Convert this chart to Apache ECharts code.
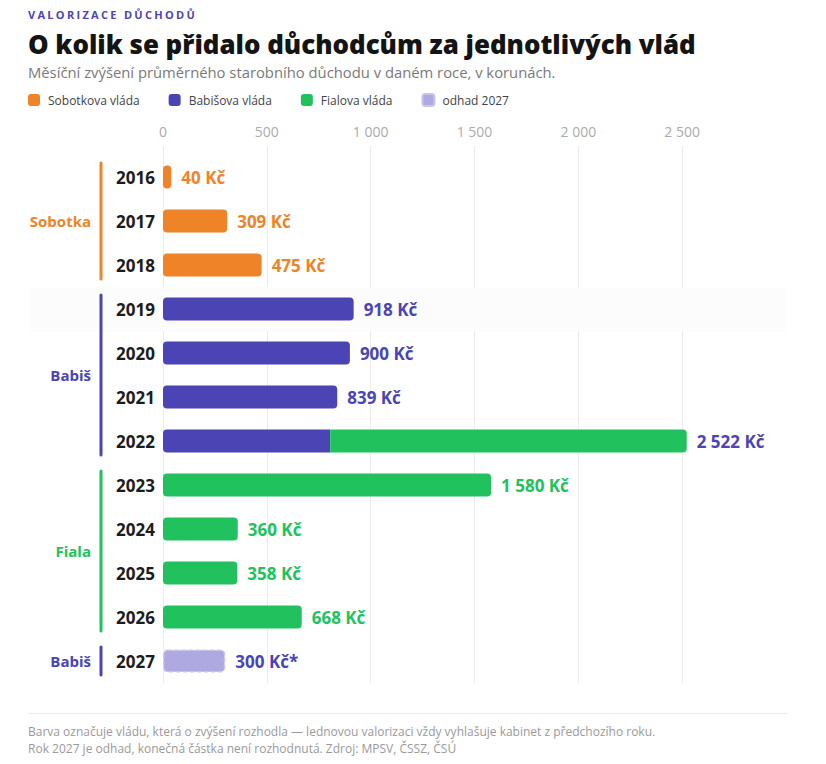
<!DOCTYPE html>
<html>
<head>
<meta charset="utf-8">
<script src="https://cdn.jsdelivr.net/npm/echarts@6/dist/echarts.min.js"></script>
<style>
  html, body { margin: 0; padding: 0; background: #fff; }
  #wrap { position: relative; width: 826px; height: 764px; font-family: 'Open Sans', sans-serif; }
  #chart { position: absolute; left: 0; top: 0; width: 826px; height: 764px; }
  .t { position: absolute; left: 28px; white-space: nowrap; }
  #kicker { top: 8px; font-size: 11px; line-height: 14px; font-weight: 700; letter-spacing: 2.3px; color: #4d45b3; }
  #title { top: 28px; font-size: 25.9px; line-height: 32px; font-weight: 800; color: #141414; }
  #sub { top: 63px; font-size: 14.8px; line-height: 18px; color: #7a7a7a; }
  #rule { position: absolute; left: 28px; top: 713px; width: 760px; height: 1px; background: #ededed; }
  #foot1 { top: 723px; font-size: 12px; line-height: 17px; color: #9a9a9a; }
  #foot2 { top: 740px; font-size: 12px; line-height: 17px; color: #9a9a9a; }
</style>
</head>
<body>
<div id="wrap">
  <div id="chart"></div>
  <div class="t" id="kicker">VALORIZACE DŮCHODŮ</div>
  <div class="t" id="title">O kolik se přidalo důchodcům za jednotlivých vlád</div>
  <div class="t" id="sub">Měsíční zvýšení průměrného starobního důchodu v daném roce, v korunách.</div>
  <div id="rule"></div>
  <div class="t" id="foot1">Barva označuje vládu, která o zvýšení rozhodla — lednovou valorizaci vždy vyhlašuje kabinet z předchozího roku.</div>
  <div class="t" id="foot2">Rok 2027 je odhad, konečná částka není rozhodnutá. Zdroj: MPSV, ČSSZ, ČSÚ</div>
</div>
<script>
// ---- data ----
const years   = ['2016','2017','2018','2019','2020','2021','2022','2023','2024','2025','2026','2027'];
const sobotka = [40, 309, 475, null, null, null, null, null, null, null, null, null];
const babis   = [null, null, null, 918, 900, 839, 805, null, null, null, null, null];
const fiala   = [null, null, null, null, null, null, 1717, 1580, 360, 358, 668, null];
const odhad   = [null, null, null, null, null, null, null, null, null, null, null, 300];
const totals  = [40, 309, 475, 918, 900, 839, 2522, 1580, 360, 358, 668, 300];
const xTicks  = [0, 500, 1000, 1500, 2000, 2500];
const groupNames = ['Sobotka', 'Babiš', 'Fiala', 'Babiš'];
const groupStart = [0, 3, 7, 11];
const groupEnd   = [2, 6, 10, 11];
const groupGov   = ['sobotka', 'babis', 'fiala', 'babis'];
const highlightRow = 3;

const C = { sobotka: '#ee8427', babis: '#4a44b4', fiala: '#21c25e', odhad: '#afa9e1' };
const FONT = "'Open Sans', sans-serif";

function fmt(v) { return String(v).replace(/\B(?=(\d{3})+(?!\d))/g, ' '); }

const chart = echarts.init(document.getElementById('chart'), null, { renderer: 'svg' });

function labelCfg(color, suffix) {
  return {
    show: true, position: 'right', distance: 10,
    color: color, fontFamily: FONT, fontWeight: 'bold', fontSize: 17,
    formatter: p => fmt(totals[p.dataIndex]) + ' Kč' + (suffix || '')
  };
}

const babisData = babis.map((v, i) => {
  if (v == null) return '-';
  if (i === 6) return { value: v, label: { show: false }, itemStyle: { borderRadius: [4, 0, 0, 4] } };
  return v;
});
const fialaData = fiala.map((v, i) => {
  if (v == null) return '-';
  if (i === 6) return { value: v, label: { color: C.babis }, itemStyle: { borderRadius: [0, 4, 4, 0] } };
  return v;
});

const groupData = groupNames.map((n, i) => [0, groupStart[i], groupEnd[i], i]);

const option = {
  animation: false,
  textStyle: { fontFamily: FONT },
  legend: {
    left: 28, top: 93, padding: 0, itemWidth: 12, itemHeight: 12, itemGap: 29,
    icon: 'roundRect',
    textStyle: { fontFamily: FONT, fontSize: 12, color: '#444', padding: [0, 0, 0, 3] },
    data: ['Sobotkova vláda', 'Babišova vláda', 'Fialova vláda', 'odhad 2027']
  },
  grid: { left: 163, right: 40, top: 155, bottom: 81, containLabel: false },
  xAxis: {
    type: 'value', position: 'top', min: 0, max: 3000, interval: 500,
    axisLine: { show: false },
    axisTick: { show: true, length: 9, lineStyle: { color: '#ebebeb' } },
    axisLabel: {
      margin: 17, fontFamily: FONT, fontSize: 14, color: '#ababab',
      showMaxLabel: false,
      formatter: v => xTicks.indexOf(v) >= 0 ? fmt(v) : ''
    },
    splitLine: { show: true, showMaxLine: false, lineStyle: { color: '#ebebeb', width: 1 } }
  },
  yAxis: {
    type: 'category', data: years, inverse: true,
    axisLine: { show: false }, axisTick: { show: false },
    axisLabel: { margin: 8, fontFamily: FONT, fontSize: 17, fontWeight: 'bold', color: '#1c1c1c' }
  },
  series: [
    {
      type: 'custom', name: 'highlight', silent: true, clip: false, z: 0,
      data: [[0, highlightRow]],
      encode: { x: 0, y: 1 },
      renderItem: (params, api) => {
        const p = api.coord([0, api.value(1)]);
        const h = api.size([0, 1])[1];
        const right = api.coord([3000, 0])[0];
        return { type: 'rect', shape: { x: 30, y: p[1] - h / 2, width: right - 30, height: h },
                 style: { fill: '#fcfcfc' }, z2: 0 };
      }
    },
    {
      type: 'custom', name: 'groups', silent: true, clip: false, z: 5,
      data: groupData,
      encode: { x: 0, y: 1 },
      renderItem: (params, api) => {
        const gi = api.value(3);
        const p0 = api.coord([0, api.value(1)]);
        const p1 = api.coord([0, api.value(2)]);
        const col = C[groupGov[gi]];
        const x = p0[0] - 62;
        const y0 = p0[1] - 14, y1 = p1[1] + 14;
        return {
          type: 'group',
          children: [
            { type: 'line', shape: { x1: x, y1: y0, x2: x, y2: y1 },
              style: { stroke: col, lineWidth: 3, lineCap: 'round' } },
            { type: 'text', x: x - 10, y: (y0 + y1) / 2,
              style: { text: groupNames[gi], fill: col, font: "bold 15px 'Open Sans', sans-serif",
                       align: 'right', verticalAlign: 'middle' } }
          ]
        };
      }
    },
    {
      name: 'Sobotkova vláda', type: 'bar', stack: 'g', barWidth: 23,
      itemStyle: { color: C.sobotka, borderRadius: 4 },
      label: labelCfg(C.sobotka),
      data: sobotka.map(v => v == null ? '-' : v)
    },
    {
      name: 'Babišova vláda', type: 'bar', stack: 'g', barWidth: 23,
      itemStyle: { color: C.babis, borderRadius: 4 },
      label: labelCfg(C.babis),
      data: babisData
    },
    {
      name: 'Fialova vláda', type: 'bar', stack: 'g', barWidth: 23,
      itemStyle: { color: C.fiala, borderRadius: 4 },
      label: labelCfg(C.fiala),
      data: fialaData
    },
    {
      name: 'odhad 2027', type: 'bar', stack: 'g', barWidth: 23,
      itemStyle: { color: C.odhad, borderRadius: 4, borderColor: '#c9c4ee', borderWidth: 1.5, borderType: [4, 3] },
      label: labelCfg(C.babis, '*'),
      data: odhad.map(v => v == null ? '-' : v)
    }
  ]
};
chart.setOption(option);
</script>
</body>
</html>
